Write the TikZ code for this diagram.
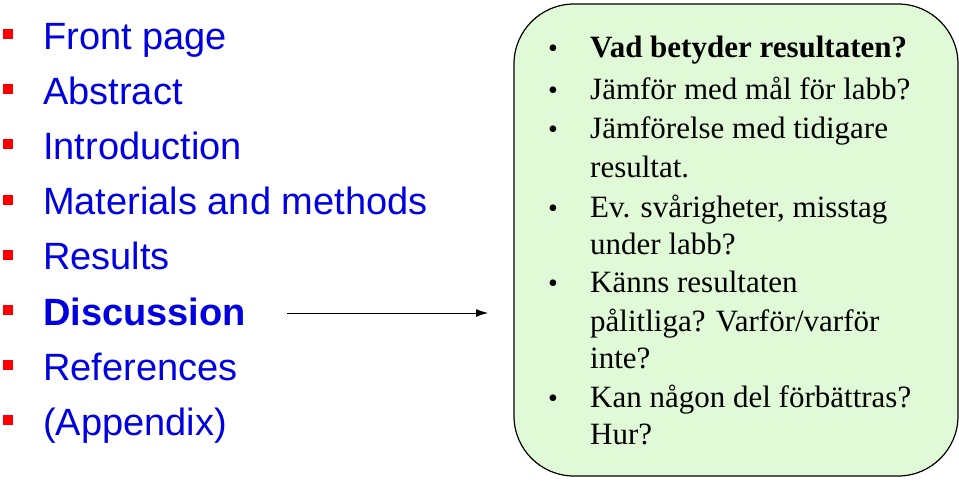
\documentclass[tikz,border=0pt]{standalone}
\usepackage{fontspec}
\setmainfont{Liberation Serif}
\setsansfont{Liberation Sans}
\usetikzlibrary{arrows.meta}
\definecolor{itemblue}{RGB}{0,0,225}
\definecolor{boxgreen}{RGB}{224,250,216}
\begin{document}
\begin{tikzpicture}[x=1pt,y=-1pt,
  litem/.style={anchor=base west,font=\sffamily\fontsize{38}{38}\selectfont,text=itemblue,inner sep=0},
  rtext/.style={anchor=base west,font=\fontsize{31}{31}\selectfont,inner sep=0},
  sq/.style={fill=red,minimum size=10pt,inner sep=0}]
\useasboundingbox (0,0) rectangle (959,480);
\node[draw=black,line width=1.2pt,fill=boxgreen,rounded corners=60pt,minimum width=444pt,minimum height=472pt] (box) at (736,240) {};
\foreach \t/\n [count=\i from 0] in {Front page/a,Abstract/b,Introduction/c,Materials and methods/d,Results/e,\textbf{Discussion}/f,References/g,(Appendix)/h}{
  \node[sq] (s\n) at (8,{34+\i*55.2}) {};
  \node[litem] (t\n) at (43,{49+\i*55.2}) {\t};
}
\foreach \t/\y [count=\i] in {{\textbf{Vad betyder resultaten?}}/57,{Jämför med mål för labb?}/99,{Jämförelse med tidigare}/138,{resultat.}/177,{Ev. svårigheter, misstag}/217,{under labb?}/254,{Känns resultaten}/292,{pålitliga? Varför/varför}/331,{inte?}/368,{Kan någon del förbättras?}/407,{Hur?}/444}{
  \node[rtext] (r\i) at (590,\y) {\t};
}
\foreach \y [count=\i] in {57,99,138,217,292,407}{
  \node[anchor=base,font=\fontsize{28}{28}\selectfont,inner sep=0] (b\i) at (553,\y) {•};
}
\coordinate (as) at (287,313);
\coordinate (ae) at (488,313);
\draw[-{Latex[length=12pt,width=8pt]},line width=0.8pt] (as) -- (ae);
\end{tikzpicture}
\end{document}
